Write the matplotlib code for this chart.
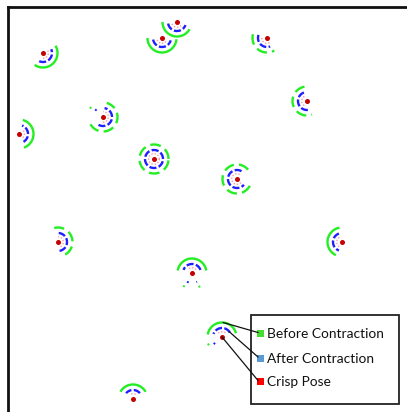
import numpy as np
import matplotlib
matplotlib.use("Agg")
import matplotlib.pyplot as plt
from matplotlib.patches import Rectangle

# pose centres (pixel units, y grows downward)
pose_x = [43, 162, 177, 267, 307, 103, 19, 154, 237, 58, 342, 192, 222, 133]
pose_y = [53, 38, 22, 38, 101, 117, 134, 159, 179, 242, 242, 273, 337, 399]

# angular extent of the heading uncertainty, degrees counter-clockwise
before_start = [-125, 180, 180, 165, 100, -150, -70, 0, 40, -60, 100, 10, 15, 30]
before_end = [30, 355, 330, 300, 290, 75, 75, 360, 345, 105, 245, 170, 170, 150]
after_start = [-115, 190, 190, 160, 110, -120, -60, 0, 60, -80, 110, 20, 30, 40]
after_end = [25, 345, 340, 290, 280, 80, 70, 360, 320, 100, 250, 160, 160, 140]
crisp_start = [-90, 200, 200, 180, 120, -90, -45, 0, 60, -60, 120, 40, 50, 60]
crisp_end = [40, 340, 340, 300, 260, 90, 60, 360, 330, 90, 240, 140, 140, 120]

# sampled before-contraction poses (dashed) vs. contiguous ones
before_dashed = [False, False, False, True, True, True, False, True, True, True, False, False, False, False]

# scattered outlier samples: (pose, ring, start, end)
outliers = [(5, 'before', 140, 175), (5, 'after', 130, 160),
            (11, 'before', 235, 245), (11, 'before', 295, 305),
            (11, 'after', 240, 300),
            (12, 'before', 205, 220), (12, 'after', 215, 230)]

legend_labels = ['Before Contraction', 'After Contraction', 'Crisp Pose']
legend_colors = ['#44dd33', '#5b9bd5', '#ff0000']

r_before, r_after, r_crisp = 14.5, 9, 5.3
green, blue, pink, red = '#22ee22', '#1f1fff', '#ff9aa6', '#c40000'


def arc(ax, cx, cy, r, a0, a1, **kw):
    if a1 < a0:
        a1 += 360
    t = np.radians(np.linspace(a0, a1, 80))
    ax.plot(cx + r * np.cos(t), cy - r * np.sin(t), solid_capstyle='butt',
            dash_capstyle='butt', **kw)


fig = plt.figure(figsize=(4.07, 4.12), dpi=100)
W, H = 407, 412
left, top = 8, 7
ax = fig.add_axes([left / W, 0, 1 - left / W, 1 - top / H])
ax.set_xlim(left, W)
ax.set_ylim(H, top)
ax.set_xticks([])
ax.set_yticks([])
for s in ['right', 'bottom']:
    ax.spines[s].set_visible(False)
for s in ['left', 'top']:
    ax.spines[s].set_linewidth(2.0)
    ax.spines[s].set_color('#111111')

radii = {'before': r_before, 'after': r_after}
colors = {'before': green, 'after': blue}

for i in range(len(pose_x)):
    cx, cy = pose_x[i], pose_y[i]
    if before_dashed[i]:
        arc(ax, cx, cy, r_before, before_start[i], before_end[i], color=green,
            lw=1.7, linestyle=(0, (4.5, 2.2)))
    else:
        arc(ax, cx, cy, r_before, before_start[i], before_end[i], color=green, lw=1.7)
    arc(ax, cx, cy, r_after, after_start[i], after_end[i], color=blue,
        lw=1.7, linestyle=(0, (3, 1)))
    arc(ax, cx, cy, r_crisp, crisp_start[i], crisp_end[i], color=pink,
        lw=1.0, linestyle=(0, (1, 1.3)))
    ax.plot(cx, cy, 'o', color=red, ms=3.6, mec='none')

for i, ring, a0, a1 in outliers:
    arc(ax, pose_x[i], pose_y[i], radii[ring] + 1, a0, a1, color=colors[ring],
        lw=1.4, linestyle=(0, (1, 4)))

# legend box with leader lines to one annotated pose
lx0, ly0, lx1, ly1 = 251, 315, 399, 404
ax.add_patch(Rectangle((lx0, ly0), lx1 - lx0, ly1 - ly0, fill=False,
                       edgecolor='#222222', lw=1.3))
row_y = [333.5, 358, 381.5]
sq = 7
k = 12
cx, cy = pose_x[k], pose_y[k]
anchors = [
    (cx + r_before * np.cos(np.radians(85)), cy - r_before * np.sin(np.radians(85))),
    (cx + r_after * np.cos(np.radians(35)), cy - r_after * np.sin(np.radians(35))),
    (cx, cy),
]
for (axx, ayy), yy, lab, col in zip(anchors, row_y, legend_labels, legend_colors):
    ax.plot([axx, 258], [ayy, yy - 1], color='#111111', lw=0.9)
    ax.add_patch(Rectangle((257, yy - sq / 2), sq, sq, color=col, lw=0))
    ax.text(267, yy + 1, lab, fontsize=9.9, family='Lato', color='#111111',
            va='center', ha='left')

fig.savefig('out.png', dpi=100, facecolor='white')
